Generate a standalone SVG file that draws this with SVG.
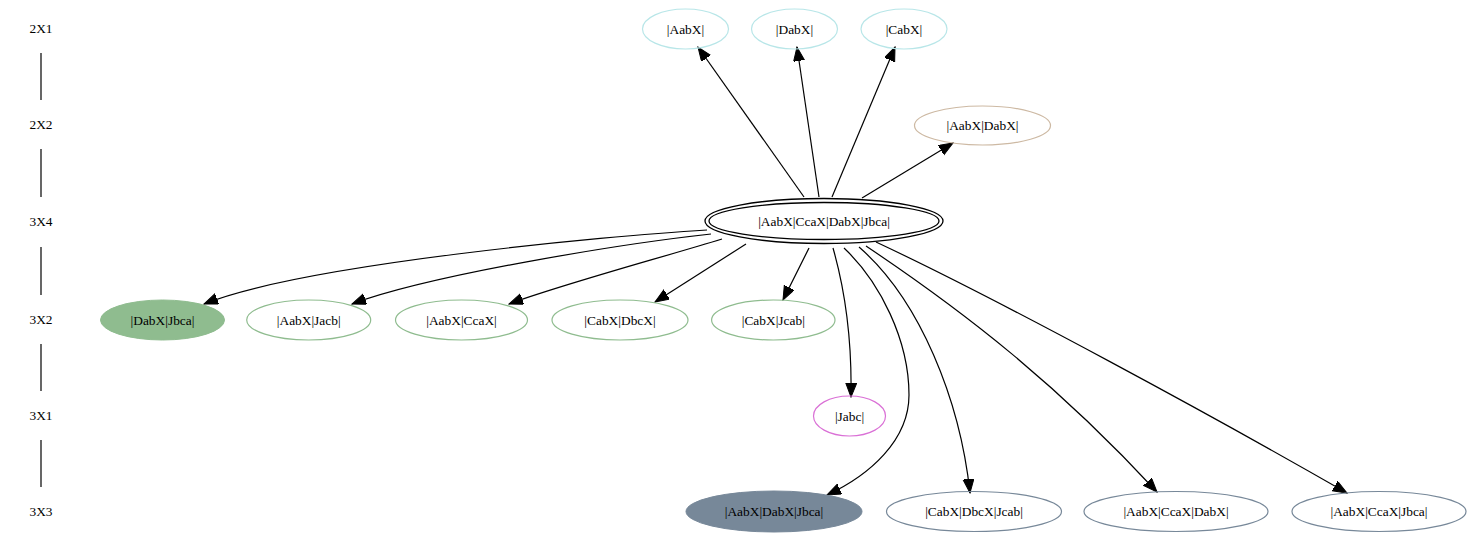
<svg xmlns="http://www.w3.org/2000/svg" width="1471" height="541" viewBox="0 0 1471 541">
<style>
text{font-family:"Liberation Serif","Times New Roman",serif;font-size:13.4px;fill:#000;text-anchor:middle}
.n{fill:none;stroke-width:1.2}
.top{stroke:#b8e6e8}
.tan{stroke:#cdb9a3}
.grn{stroke:#8fbc8f}
.orc{stroke:#da70d6}
.sg{stroke:#778899}
.e{fill:none;stroke:#000;stroke-width:1.2;marker-end:url(#ah)}
.rk{stroke:#000;stroke-width:1.2}
</style>
<defs>
<marker id="ah" markerUnits="userSpaceOnUse" markerWidth="15" markerHeight="12" refX="14" refY="5.5" orient="auto">
<path d="M0,0 L14,5.5 L0,11 z" fill="#000" stroke="#000" stroke-width="1"/>
</marker>
</defs>
<rect width="1471" height="541" fill="#fff"/>
<g id="ranks">
<text x="41" y="33">2X1</text>
<text x="41" y="129">2X2</text>
<text x="41" y="226">3X4</text>
<text x="41" y="324">3X2</text>
<text x="41" y="420">3X1</text>
<text x="41" y="516">3X3</text>
<line class="rk" x1="41" y1="53" x2="41" y2="100"/>
<line class="rk" x1="41" y1="149" x2="41" y2="197"/>
<line class="rk" x1="41" y1="247" x2="41" y2="295"/>
<line class="rk" x1="41" y1="344" x2="41" y2="391"/>
<line class="rk" x1="41" y1="440" x2="41" y2="487"/>
</g>
<g id="connectors">
<path class="e" d="M804,197 L698,47"/>
<path class="e" d="M819,197 L797,47"/>
<path class="e" d="M832,197 L895,47"/>
<path class="e" d="M862,198 L953,143"/>
<path class="e" d="M707,230 C607,236 304,264 204,304"/>
<path class="e" d="M711,234 C620,244 430,275 352,304"/>
<path class="e" d="M722,239 C660,258 560,285 509,304"/>
<path class="e" d="M746,244 L655,302"/>
<path class="e" d="M809,248 L783,300"/>
<path class="e" d="M833,248 C845,290 852,340 851,397"/>
<path class="e" d="M844,248 C880,282 909,340 909,395 C909,440 870,475 827,495"/>
<path class="e" d="M859,247 C920,300 960,400 970,493"/>
<path class="e" d="M866,246 C966,313 1057,384 1157,492"/>
<path class="e" d="M876,242 C1000,300 1220,420 1347,493"/>
</g>
<g id="n_AabX"><ellipse class="n top" cx="685.5" cy="29" rx="43" ry="20"/><text x="685.5" y="33.5">|AabX|</text></g>
<g id="n_DabX"><ellipse class="n top" cx="794.5" cy="29" rx="43" ry="20"/><text x="794.5" y="33.5">|DabX|</text></g>
<g id="n_CabX"><ellipse class="n top" cx="904" cy="29" rx="43" ry="20"/><text x="904" y="33.5">|CabX|</text></g>
<g id="n_AabX_DabX"><ellipse class="n tan" cx="982.5" cy="125.5" rx="68" ry="19.5"/><text x="982.5" y="130">|AabX|DabX|</text></g>
<g id="n_main"><ellipse cx="824" cy="221" rx="119" ry="22.5" fill="none" stroke="#000" stroke-width="1.3"/><ellipse cx="824" cy="221" rx="115" ry="18.5" fill="none" stroke="#000" stroke-width="1.3"/><text x="824" y="225.5">|AabX|CcaX|DabX|Jbca|</text></g>
<g id="n_DabX_Jbca"><ellipse cx="162.5" cy="320" rx="62" ry="20" fill="#8fbc8f" stroke="#8fbc8f"/><text x="162.5" y="324.5">|DabX|Jbca|</text></g>
<g id="n_AabX_Jacb"><ellipse class="n grn" cx="308.7" cy="320" rx="62" ry="20"/><text x="308.7" y="324.5">|AabX|Jacb|</text></g>
<g id="n_AabX_CcaX"><ellipse class="n grn" cx="461.5" cy="320" rx="66" ry="20"/><text x="461.5" y="324.5">|AabX|CcaX|</text></g>
<g id="n_CabX_DbcX"><ellipse class="n grn" cx="620" cy="320" rx="68" ry="20"/><text x="620" y="324.5">|CabX|DbcX|</text></g>
<g id="n_CabX_Jcab"><ellipse class="n grn" cx="773.3" cy="320" rx="61.7" ry="20"/><text x="773.3" y="324.5">|CabX|Jcab|</text></g>
<g id="n_Jabc"><ellipse class="n orc" cx="849.5" cy="416" rx="36" ry="20"/><text x="849.5" y="420.5">|Jabc|</text></g>
<g id="n_AabX_DabX_Jbca"><ellipse cx="774" cy="511.5" rx="88" ry="20.5" fill="#778899" stroke="#778899"/><text x="774" y="516">|AabX|DabX|Jbca|</text></g>
<g id="n_CabX_DbcX_Jcab"><ellipse class="n sg" cx="974" cy="511.5" rx="87.5" ry="20"/><text x="974" y="516">|CabX|DbcX|Jcab|</text></g>
<g id="n_AabX_CcaX_DabX"><ellipse class="n sg" cx="1176" cy="511.5" rx="92" ry="20"/><text x="1176" y="516">|AabX|CcaX|DabX|</text></g>
<g id="n_AabX_CcaX_Jbca"><ellipse class="n sg" cx="1379" cy="511.5" rx="87" ry="20"/><text x="1379" y="516">|AabX|CcaX|Jbca|</text></g>
</svg>
